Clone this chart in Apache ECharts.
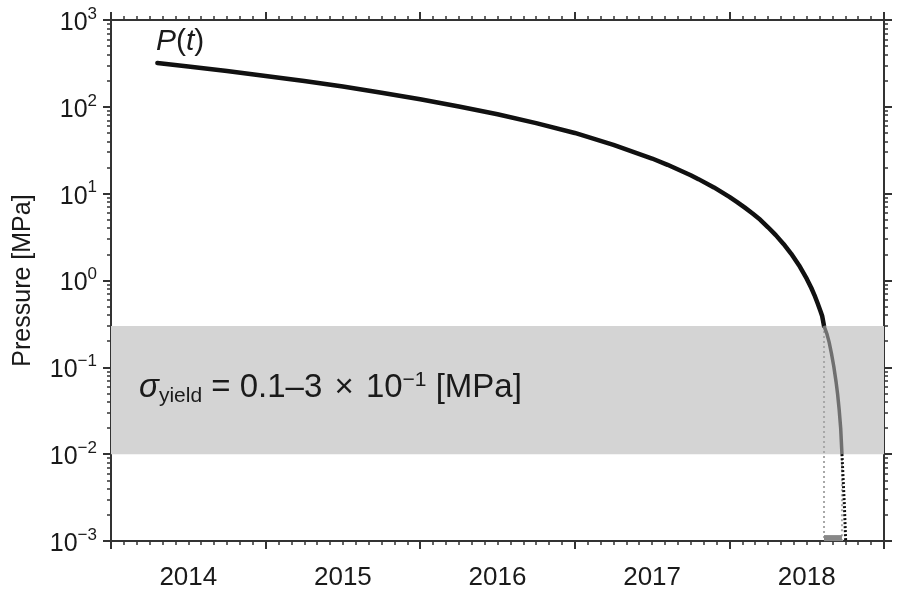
<!DOCTYPE html>
<html><head><meta charset="utf-8">
<script src="https://cdn.jsdelivr.net/npm/echarts@6/dist/echarts.min.js"></script>
<style>html,body{margin:0;padding:0;background:#fff}#c{width:898px;height:591px}</style>
</head><body><div id="c"></div>
<script>
// ---- data ----
const curveT = [2014.30, 2014.50, 2014.75, 2015.00, 2015.25, 2015.50, 2015.75, 2016.00, 2016.25, 2016.50, 2016.75, 2017.00, 2017.25, 2017.50, 2017.60, 2017.75, 2017.80, 2017.90, 2018.00, 2018.05, 2018.10, 2018.15, 2018.20, 2018.25, 2018.30, 2018.35, 2018.40, 2018.45, 2018.50, 2018.53, 2018.55, 2018.57, 2018.59, 2018.60, 2018.612];
const curveP = [320, 292, 258, 227, 198, 171, 145, 122, 101, 82, 65, 50, 36.5, 25.4, 21.5, 16.3, 14.7, 11.8, 9.2, 8.0, 6.9, 5.9, 5.0, 4.1, 3.33, 2.64, 2.03, 1.50, 1.05, 0.82, 0.68, 0.55, 0.44, 0.39, 0.30];
const yieldT = [2018.612, 2018.63, 2018.645, 2018.66, 2018.675, 2018.69, 2018.70, 2018.71, 2018.72, 2018.728];
const yieldP = [0.30, 0.245, 0.195, 0.145, 0.103, 0.068, 0.049, 0.0326, 0.0197, 0.010];
const tailT = [2018.728, 2018.736, 2018.744, 2018.752];
const tailP = [0.010, 0.005, 0.0025, 0.001];
const bandRange = [0.01, 0.3];
const yieldCutT = [2018.612, 2018.728];
const barP = 0.00108;
const yearTicks = [2014, 2015, 2016, 2017, 2018, 2019];
const yearLabelPos = [2014.5, 2015.5, 2016.5, 2017.5, 2018.5];
const decades = [-3, -2, -1, 0, 1, 2, 3];
const minorMultipliers = [2, 3, 4, 5, 6, 7, 8, 9];

const FONT = 'Liberation Sans, Arial, Helvetica, sans-serif';
const AXC = '#333';
const TXT = '#1a1a1a';
const zip = (a, b) => a.map((v, i) => [v, b[i]]);

function expStr(v) { const n = Math.round(v); return n < 0 ? '\u2212' + (-n) : String(n); }

function xAxisDef(pos, showLabel) {
  return {
    type: 'value', position: pos, min: 2014, max: 2019, interval: 1,
    axisLine: { show: true, onZero: false, lineStyle: { color: AXC, width: 2 } },
    axisTick: { show: true, length: 8, customValues: yearTicks, lineStyle: { color: AXC, width: 2 } },
    minorTick: { show: true, splitNumber: 12, length: 4, lineStyle: { color: AXC, width: 1.5 } },
    splitLine: { show: false }, minorSplitLine: { show: false },
    axisLabel: showLabel ? {
      show: true, customValues: yearLabelPos, margin: 24,
      formatter: v => String(Math.floor(v)),
      fontFamily: FONT, fontSize: 26, color: TXT
    } : { show: false }
  };
}
function yMajor(pos, showLabel) {
  const ax = {
    type: 'value', position: pos, min: -3, max: 3, interval: 1,
    axisLine: { show: true, onZero: false, lineStyle: { color: AXC, width: 2 } },
    axisTick: { show: true, length: 8, customValues: decades, lineStyle: { color: AXC, width: 2 } },
    splitLine: { show: false },
    axisLabel: { show: false }
  };
  if (showLabel) {
    ax.axisLabel = {
      show: true, margin: 14,
      formatter: v => '{b|10}{s|' + expStr(v) + '}',
      rich: {
        b: { fontFamily: FONT, fontSize: 25, color: TXT, padding: [6, 0, 0, 0] },
        s: { fontFamily: FONT, fontSize: 17, color: TXT, padding: [0, 0, 12, 0] }
      }
    };
    ax.name = 'Pressure [MPa]';
    ax.nameLocation = 'middle';
    ax.nameGap = 75;
    ax.nameTextStyle = { fontFamily: FONT, fontSize: 25, color: TXT };
  }
  return ax;
}
// one axis per multiplier so that each axis has widely spaced ticks
function yMinor(pos, k) {
  const vals = [];
  for (let e = -3; e < 3; e++) vals.push(e + Math.log10(k));
  return {
    type: 'value', position: pos, min: -3, max: 3, interval: 1,
    axisLine: { show: false, onZero: false },
    axisTick: { show: true, length: 4, customValues: vals, lineStyle: { color: AXC, width: 1.5 } },
    splitLine: { show: false }, axisLabel: { show: false }
  };
}

const yAxes = [
  { type: 'log', logBase: 10, min: 0.001, max: 1000, show: false },
  yMajor('left', true), yMajor('right', false)
];
minorMultipliers.forEach(k => { yAxes.push(yMinor('left', k)); yAxes.push(yMinor('right', k)); });

const chart = echarts.init(document.getElementById('c'), null, { renderer: 'canvas' });
chart.setOption({
  backgroundColor: '#fff',
  animation: false,
  grid: { left: 111, right: 14, top: 20, bottom: 49, containLabel: false },
  xAxis: [xAxisDef('bottom', true), xAxisDef('top', false)],
  yAxis: yAxes,
  series: [
    {
      type: 'line', name: 'band', xAxisIndex: 0, yAxisIndex: 0, data: [], z: 1,
      markArea: {
        silent: true, itemStyle: { color: '#d4d4d4' },
        data: [[{ yAxis: bandRange[0] }, { yAxis: bandRange[1] }]]
      }
    },
    {
      type: 'line', name: 'P(t)', xAxisIndex: 0, yAxisIndex: 0, z: 5,
      data: zip(curveT, curveP), showSymbol: false, smooth: false,
      lineStyle: { color: '#111', width: 4.5, cap: 'round', join: 'round' }
    },
    {
      type: 'line', name: 'yield', xAxisIndex: 0, yAxisIndex: 0, z: 5,
      data: zip(yieldT, yieldP), showSymbol: false, smooth: false,
      lineStyle: { color: '#6f6f6f', width: 3.5, join: 'round' }
    },
    {
      type: 'line', name: 'tail', xAxisIndex: 0, yAxisIndex: 0, z: 5,
      data: zip(tailT, tailP), showSymbol: false,
      lineStyle: { color: '#111', width: 3, type: [2, 2] }
    },
    {
      type: 'line', name: 'cut1', xAxisIndex: 0, yAxisIndex: 0, z: 4,
      data: [[yieldCutT[0], bandRange[1]], [yieldCutT[0], 0.001]], showSymbol: false,
      lineStyle: { color: '#a8a8a8', width: 2, type: [2, 3] }
    },
    {
      type: 'line', name: 'cut2', xAxisIndex: 0, yAxisIndex: 0, z: 4,
      data: [[yieldCutT[1], bandRange[0]], [yieldCutT[1], 0.001]], showSymbol: false,
      lineStyle: { color: '#a8a8a8', width: 2, type: [2, 3] }
    },
    {
      type: 'line', name: 'bar', xAxisIndex: 0, yAxisIndex: 0, z: 4,
      data: [[yieldCutT[0], barP], [yieldCutT[1], barP]], showSymbol: false,
      lineStyle: { color: '#888', width: 6 }
    }
  ],
  graphic: [
    {
      type: 'text', x: 156, y: 42, z: 10,
      style: {
        text: '{i|P}{n|(}{i|t}{n|)}', verticalAlign: 'middle',
        rich: {
          i: { fontFamily: FONT, fontSize: 30, fontStyle: 'italic', fill: TXT },
          n: { fontFamily: FONT, fontSize: 30, fill: TXT }
        }
      }
    },
    {
      type: 'text', x: 139, y: 388, z: 10,
      style: {
        text: '{g|\u03c3}{sub|yield}{n| = 0.1\u20133 }{x|\u00d7}{n| 10}{sup|\u22121}{n| [MPa]}', verticalAlign: 'middle',
        rich: {
          g: { fontFamily: FONT, fontSize: 33, fontStyle: 'italic', fill: TXT },
          n: { fontFamily: FONT, fontSize: 33, fill: TXT },
          x: { fontFamily: FONT, fontSize: 33, fill: TXT, padding: [0, 3, 0, 3] },
          sub: { fontFamily: FONT, fontSize: 21, fill: TXT, padding: [16, 0, 0, 0] },
          sup: { fontFamily: FONT, fontSize: 21, fill: TXT, padding: [0, 0, 16, 0] }
        }
      }
    }
  ]
});
</script>
</body></html>
